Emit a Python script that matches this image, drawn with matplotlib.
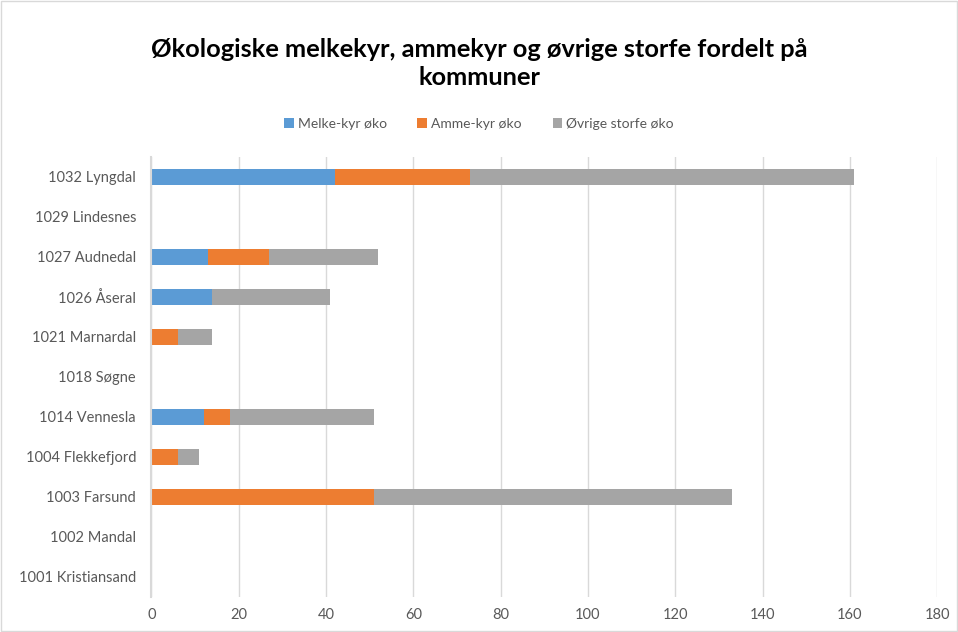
import numpy as np
import matplotlib.pyplot as plt
from matplotlib.patches import Rectangle

plt.rcParams['font.family'] = ['Lato', 'DejaVu Sans']

# kommuner, nederst først
kommuner = ['1001 Kristiansand', '1002 Mandal', '1003 Farsund', '1004 Flekkefjord',
            '1014 Vennesla', '1018 Søgne', '1021 Marnardal', '1026 Åseral',
            '1027 Audnedal', '1029 Lindesnes', '1032 Lyngdal']
melkekyr = [0, 0, 0, 0, 12, 0, 0, 14, 13, 0, 42]
ammekyr = [0, 0, 51, 6, 6, 0, 6, 0, 14, 0, 31]
ovrige = [0, 0, 82, 5, 33, 0, 8, 27, 25, 0, 88]

serier = [('Melke-kyr øko', melkekyr, '#5B9BD5'),
          ('Amme-kyr øko', ammekyr, '#ED7D31'),
          ('Øvrige storfe øko', ovrige, '#A5A5A5')]

fig = plt.figure(figsize=(9.58, 6.32), dpi=100)
ax = fig.add_axes([0.158, 0.0554, 0.8204, 0.6962])

y = np.arange(len(kommuner))
venstre = np.zeros(len(kommuner))
for navn, verdier, farge in serier:
    ax.barh(y, verdier, left=venstre, height=0.4, color=farge, label=navn,
            linewidth=0, zorder=3)
    venstre += np.array(verdier)

ax.set_xlim(0, 180)
ax.set_ylim(-0.5, len(kommuner) - 0.5)
ax.set_xticks(range(0, 181, 20))
ax.set_yticks(y)
ax.set_yticklabels(kommuner)
ax.grid(axis='x', color='#D9D9D9', linewidth=1, zorder=0)
for side in ['top', 'right', 'bottom']:
    ax.spines[side].set_visible(False)
ax.spines['left'].set_color('#D9D9D9')
ax.spines['left'].set_linewidth(1.5)
ax.spines['left'].set_zorder(4)
ax.tick_params(axis='both', length=0, labelsize=10.5, labelcolor='#595959')
ax.tick_params(axis='y', pad=11)
ax.tick_params(axis='x', pad=8)

fig.text(0.5, 0.8995, 'Økologiske melkekyr, ammekyr og øvrige storfe fordelt på\nkommuner',
         ha='center', va='center', fontsize=18.3, fontweight='bold', color='#000000',
         linespacing=1.3)

fig.legend(loc='center', bbox_to_anchor=(0.5, 0.804), ncol=3, frameon=False,
           fontsize=10, labelcolor='#595959', handlelength=0.7, handleheight=0.7,
           handletextpad=0.3, columnspacing=2.2)

fig.add_artist(Rectangle((0.001, 0.001), 0.998, 0.998, transform=fig.transFigure,
                         fill=False, edgecolor='#D9D9D9', linewidth=1))

fig.savefig('out.png', dpi=100)
